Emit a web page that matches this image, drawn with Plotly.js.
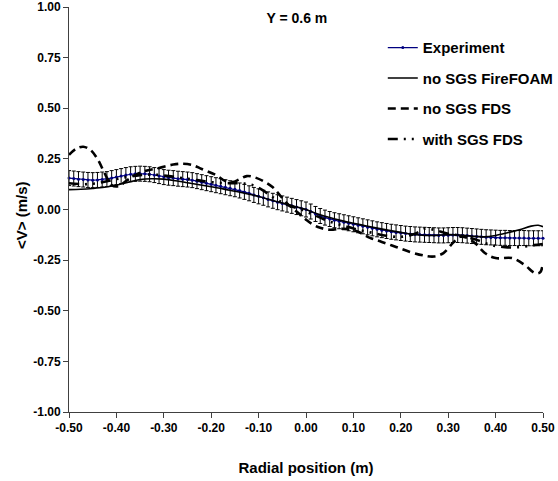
<!DOCTYPE html>
<html>
<head>
<meta charset="utf-8">
<script src="https://cdn.plot.ly/plotly-3.0.1.min.js"></script>
<style>html,body{margin:0;padding:0;background:#fff;}#chart{width:558px;height:481px;}</style>
</head>
<body>
<div id="chart"></div>
<script>
// Experiment (0.01 m spacing)
const expX = [-0.50,-0.49,-0.48,-0.47,-0.46,-0.45,-0.44,-0.43,-0.42,-0.41,-0.40,-0.39,-0.38,-0.37,-0.36,-0.35,-0.34,-0.33,-0.32,-0.31,-0.30,-0.29,-0.28,-0.27,-0.26,-0.25,-0.24,-0.23,-0.22,-0.21,-0.20,-0.19,-0.18,-0.17,-0.16,-0.15,-0.14,-0.13,-0.12,-0.11,-0.10,-0.09,-0.08,-0.07,-0.06,-0.05,-0.04,-0.03,-0.02,-0.01,0.00,0.01,0.02,0.03,0.04,0.05,0.06,0.07,0.08,0.09,0.10,0.11,0.12,0.13,0.14,0.15,0.16,0.17,0.18,0.19,0.20,0.21,0.22,0.23,0.24,0.25,0.26,0.27,0.28,0.29,0.30,0.31,0.32,0.33,0.34,0.35,0.36,0.37,0.38,0.39,0.40,0.41,0.42,0.43,0.44,0.45,0.46,0.47,0.48,0.49,0.50];
const expV = [0.155,0.153,0.150,0.148,0.146,0.145,0.146,0.148,0.150,0.155,0.160,0.165,0.170,0.174,0.176,0.177,0.176,0.174,0.170,0.165,0.160,0.157,0.155,0.152,0.150,0.148,0.145,0.140,0.135,0.130,0.125,0.120,0.115,0.110,0.105,0.100,0.094,0.087,0.080,0.072,0.065,0.058,0.050,0.043,0.036,0.030,0.024,0.018,0.012,0.006,0.000,-0.010,-0.022,-0.032,-0.040,-0.047,-0.053,-0.058,-0.063,-0.068,-0.073,-0.078,-0.083,-0.088,-0.093,-0.098,-0.102,-0.106,-0.110,-0.113,-0.116,-0.119,-0.121,-0.123,-0.124,-0.125,-0.126,-0.127,-0.128,-0.128,-0.127,-0.126,-0.126,-0.127,-0.129,-0.131,-0.133,-0.135,-0.137,-0.138,-0.139,-0.140,-0.140,-0.141,-0.141,-0.141,-0.141,-0.142,-0.142,-0.142,-0.142];
const expErr = 0.037;

// no SGS FireFOAM
const foamX = [-0.50,-0.475,-0.45,-0.425,-0.40,-0.375,-0.35,-0.325,-0.30,-0.275,-0.25,-0.225,-0.20,-0.175,-0.15,-0.125,-0.10,-0.075,-0.05,-0.025,0.00,0.025,0.05,0.075,0.10,0.125,0.15,0.175,0.20,0.225,0.25,0.275,0.30,0.325,0.35,0.375,0.40,0.425,0.45,0.475,0.49,0.50];
const foamV = [0.098,0.100,0.104,0.110,0.120,0.135,0.148,0.152,0.150,0.142,0.132,0.122,0.112,0.102,0.090,0.078,0.064,0.048,0.032,0.016,0.000,-0.022,-0.040,-0.055,-0.068,-0.080,-0.092,-0.103,-0.113,-0.122,-0.128,-0.128,-0.124,-0.126,-0.132,-0.135,-0.128,-0.115,-0.100,-0.082,-0.078,-0.085];

// no SGS FDS
const fdsX = [-0.50,-0.485,-0.47,-0.455,-0.44,-0.425,-0.41,-0.395,-0.38,-0.36,-0.34,-0.31,-0.28,-0.26,-0.24,-0.22,-0.19,-0.17,-0.155,-0.14,-0.125,-0.11,-0.09,-0.07,-0.055,-0.04,-0.025,-0.01,0.00,0.015,0.03,0.05,0.08,0.11,0.135,0.16,0.19,0.22,0.25,0.27,0.29,0.31,0.325,0.34,0.357,0.378,0.40,0.435,0.462,0.483,0.494,0.50];
const fdsV = [0.27,0.30,0.31,0.295,0.25,0.18,0.12,0.115,0.14,0.17,0.19,0.205,0.222,0.226,0.22,0.20,0.17,0.14,0.135,0.15,0.165,0.16,0.14,0.11,0.07,0.03,0.0,-0.03,-0.05,-0.075,-0.09,-0.10,-0.095,-0.11,-0.14,-0.16,-0.185,-0.21,-0.228,-0.232,-0.215,-0.165,-0.135,-0.14,-0.167,-0.216,-0.24,-0.24,-0.275,-0.314,-0.31,-0.26];

// with SGS FDS
const sgsX = [-0.50,-0.47,-0.44,-0.41,-0.38,-0.35,-0.32,-0.29,-0.26,-0.23,-0.20,-0.17,-0.15,-0.13,-0.11,-0.09,-0.07,-0.05,-0.03,-0.01,0.01,0.03,0.05,0.08,0.11,0.14,0.17,0.20,0.23,0.25,0.27,0.30,0.33,0.36,0.39,0.42,0.45,0.48,0.50];
const sgsV = [0.13,0.125,0.13,0.145,0.16,0.17,0.172,0.165,0.155,0.145,0.135,0.13,0.13,0.128,0.118,0.093,0.06,0.035,0.015,0.0,-0.02,-0.04,-0.06,-0.08,-0.10,-0.115,-0.13,-0.135,-0.12,-0.095,-0.10,-0.12,-0.13,-0.15,-0.175,-0.186,-0.186,-0.176,-0.17];

const xTicks = [-0.5,-0.4,-0.3,-0.2,-0.1,0,0.1,0.2,0.3,0.4,0.5];
const xTickText = ["-0.50","-0.40","-0.30","-0.20","-0.10","0.00","0.10","0.20","0.30","0.40","0.50"];
const yTicks = [-1,-0.75,-0.5,-0.25,0,0.25,0.5,0.75,1];
const yTickText = ["-1.00","-0.75","-0.50","-0.25","0.00","0.25","0.50","0.75","1.00"];

const FONT = "Liberation Sans, Arial, sans-serif";

const traces = [
  {x: expX, y: expV, name: "Experiment", type: "scatter", mode: "lines+markers",
   line: {color: "#000080", width: 1.2}, marker: {color: "#000080", size: 3},
   error_y: {type: "constant", value: expErr, color: "#000000", thickness: 1, width: 2},
   legendgroup: "a", cliponaxis: false},
  {x: foamX, y: foamV, name: "no SGS FireFOAM", type: "scatter", mode: "lines",
   line: {color: "#000000", width: 1.6, shape: "spline"}, legendgroup: "b"},
  {x: fdsX, y: fdsV, name: "no SGS FDS", type: "scatter", mode: "lines",
   line: {color: "#000000", width: 2.6, dash: "8px,5px", shape: "spline"}, legendgroup: "c"},
  {x: sgsX, y: sgsV, name: "with SGS FDS", type: "scatter", mode: "lines",
   line: {color: "#000000", width: 2.6, dash: "10px,6px,2px,6px,2px,6px", shape: "spline"}, legendgroup: "d"}
];

const layout = {
  width: 558, height: 481,
  margin: {l: 69, r: 15, t: 7, b: 69, autoexpand: false},
  paper_bgcolor: "#ffffff", plot_bgcolor: "#ffffff",
  font: {family: FONT, size: 12, color: "#000000", weight: "bold"},
  title: {text: "<b>Y = 0.6 m</b>", font: {family: FONT, size: 14, color: "#000"},
          x: 0.532, xanchor: "center", y: 0.963, yanchor: "middle", xref: "container", yref: "container"},
  showlegend: true,
  legend: {x: 0.662, xanchor: "left", y: 0.94, yanchor: "top", bgcolor: "rgba(0,0,0,0)",
           font: {family: FONT, size: 15, color: "#000", weight: "bold"}, tracegroupgap: 8, itemwidth: 30},
  xaxis: {range: [-0.5, 0.5], tickvals: xTicks, ticktext: xTickText, showgrid: false, zeroline: false,
          showline: true, linecolor: "#404040", linewidth: 1, ticks: "outside", ticklen: 5, tickcolor: "#404040",
          tickfont: {family: FONT, size: 12, color: "#000", weight: "bold"},
          title: {text: "<b>Radial position (m)</b>", font: {family: FONT, size: 15, color: "#000"}, standoff: 28}},
  yaxis: {range: [-1, 1], tickvals: yTicks, ticktext: yTickText, showgrid: false, zeroline: false,
          showline: true, linecolor: "#404040", linewidth: 1, ticks: "outside", ticklen: 5, tickcolor: "#404040",
          ticklabeloverflow: "allow",
          tickfont: {family: FONT, size: 12, color: "#000", weight: "bold"}},
  annotations: [
    {text: "<b>&lt;V&gt; (m/s)</b>", textangle: -90, xref: "paper", yref: "paper",
     x: (22 - 69) / 474, y: (412 - 215) / 405, xanchor: "center", yanchor: "middle", showarrow: false,
     font: {family: FONT, size: 15, color: "#000"}}
  ]
};

Plotly.newPlot("chart", traces, layout, {displayModeBar: false, staticPlot: true});
</script>
</body>
</html>
